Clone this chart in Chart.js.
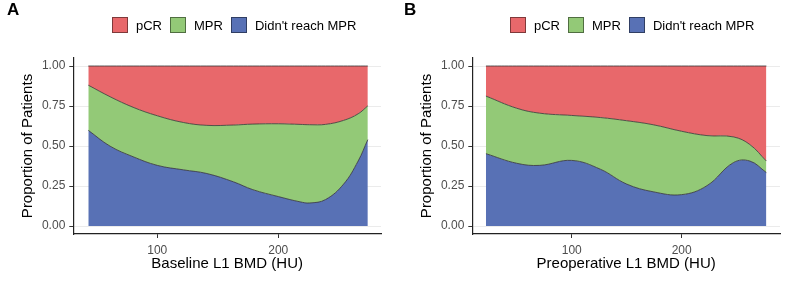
<!DOCTYPE html>
<html>
<head>
<meta charset="utf-8">
<script src="https://cdn.jsdelivr.net/npm/chart.js@4.4.0/dist/chart.umd.min.js"></script>
<style>
  body { margin: 0; background: #fff; font-family: "Liberation Sans", Arial, sans-serif; }
  #wrap { position: relative; width: 794px; height: 285px; overflow: hidden; }
  .panel { position: absolute; top: 0; width: 397px; height: 285px; }
  .panel canvas { position: absolute; left: 0; top: 0; }
  .tag { position: absolute; left: 7px; top: 1px; font-size: 17px; line-height: 17px; font-weight: bold; color: #000; }
  .legend { position: absolute; top: 17px; height: 16px; display: flex; align-items: center; font-size: 13px; color: #000; }
  .legend .item { display: flex; align-items: center; margin-right: 8px; }
  .legend .box { width: 14px; height: 14px; border: 1px solid rgba(0,0,0,0.45); margin-right: 8px; }
</style>
</head>
<body>
<div id="wrap">
  <div class="panel" style="left:0">
    <canvas id="chartA" width="397" height="285"></canvas>
    <div class="tag">A</div>
    <div class="legend" id="legendA" style="left:112px"></div>
  </div>
  <div class="panel" style="left:397px">
    <canvas id="chartB" width="397" height="285"></canvas>
    <div class="tag" style="left:7px">B</div>
    <div class="legend" id="legendB" style="left:113px"></div>
  </div>
</div>
<script>
// Panel A: Baseline L1 BMD (HU)
const baselineBMD = [43, 61, 80, 100, 121.5, 141, 163, 179, 200, 218, 226, 239, 254, 266, 274];
const baselineNoMPR = [0.598, 0.499, 0.433, 0.379, 0.351, 0.328, 0.276, 0.227, 0.184, 0.151, 0.144, 0.165, 0.262, 0.406, 0.540];
const baselineMPR = [0.282, 0.309, 0.309, 0.310, 0.296, 0.301, 0.355, 0.410, 0.455, 0.484, 0.489, 0.470, 0.398, 0.295, 0.211];
const baselinePCR = [0.120, 0.192, 0.258, 0.311, 0.353, 0.371, 0.369, 0.363, 0.361, 0.365, 0.367, 0.365, 0.340, 0.299, 0.249];

// Panel B: Preoperative L1 BMD (HU)
const preopBMD = [22, 50, 71, 100, 126, 150, 174, 200, 223, 247, 262, 277];
const preopNoMPR = [0.452, 0.392, 0.379, 0.410, 0.355, 0.262, 0.214, 0.196, 0.252, 0.396, 0.406, 0.334];
const preopMPR = [0.360, 0.344, 0.326, 0.281, 0.323, 0.396, 0.419, 0.396, 0.313, 0.161, 0.103, 0.072];
const preopPCR = [0.188, 0.264, 0.295, 0.309, 0.322, 0.342, 0.367, 0.408, 0.435, 0.443, 0.491, 0.594];

const yTicks = [0, 0.25, 0.5, 0.75, 1];
const xTicks = [100, 200];

const colors = {
    pcr: '#E8686B',
    mpr: '#93C977',
    noMPR: '#5871B5'
};

Chart.defaults.font.family = '"Liberation Sans", Arial, sans-serif';

// Legend in ggplot order: pCR, MPR, Didn't reach MPR
function buildLegend(id) {
    const items = [['pCR', colors.pcr], ['MPR', colors.mpr], ["Didn't reach MPR", colors.noMPR]];
    document.getElementById(id).innerHTML = items.map(function (it) {
        return '<div class="item"><div class="box" style="background:' + it[1] + '"></div><span>' + it[0] + '</span></div>';
    }).join('');
}

function makePanel(canvasId, xs, noMPR, mpr, pcr, xTitle, geo) {
    const pts = arr => xs.map((x, i) => ({x: x, y: arr[i]}));
    return new Chart(document.getElementById(canvasId), {
        type: 'line',
        data: {
            datasets: [
                {label: "Didn't reach MPR", data: pts(noMPR), backgroundColor: colors.noMPR, fill: 'origin'},
                {label: 'MPR', data: pts(mpr), backgroundColor: colors.mpr, fill: '-1'},
                {label: 'pCR', data: pts(pcr), backgroundColor: colors.pcr, fill: '-1'}
            ]
        },
        options: {
            responsive: false,
            animation: false,
            elements: {
                line: {tension: 0.4, borderColor: '#333', borderWidth: 0.8},
                point: {radius: 0}
            },
            layout: {padding: {left: geo.padLeft, right: 397 - geo.right, top: 58, bottom: 12}},
            plugins: {legend: {display: false}, tooltip: {enabled: false}},
            scales: {
                x: {
                    type: 'linear',
                    min: geo.xMin,
                    max: geo.xMax,
                    afterBuildTicks: s => { s.ticks = xTicks.map(v => ({value: v})); },
                    afterFit: s => { s.height = 39; },
                    grid: {drawOnChartArea: false, tickLength: 4, tickColor: '#333'},
                    border: {color: '#222', width: 1.2},
                    ticks: {color: '#4d4d4d', font: {size: 12}, padding: 5, maxRotation: 0},
                    title: {display: true, text: xTitle, color: '#000', font: {size: 15}, padding: 0}
                },
                y: {
                    stacked: true,
                    min: -0.05,
                    max: 1.05,
                    afterBuildTicks: s => { s.ticks = yTicks.map(v => ({value: v})); },
                    afterFit: s => { s.width = geo.left - geo.padLeft; },
                    grid: {color: '#ebebeb', tickLength: 4, tickColor: '#333'},
                    border: {color: '#222', width: 1.2},
                    ticks: {color: '#4d4d4d', font: {size: 12}, padding: 4, callback: v => v.toFixed(2)},
                    title: {display: true, text: 'Proportion of Patients', color: '#000', font: {size: 15}, padding: 0}
                }
            }
        }
    });
}

buildLegend('legendA');
buildLegend('legendB');

makePanel('chartA', baselineBMD, baselineNoMPR, baselineMPR, baselinePCR, 'Baseline L1 BMD (HU)',
    {padLeft: 19, left: 73.3, right: 381, xMin: 30.6, xMax: 284.9});
makePanel('chartB', preopBMD, preopNoMPR, preopMPR, preopPCR, 'Preoperative L1 BMD (HU)',
    {padLeft: 21, left: 75.3, right: 383, xMin: 9.6, xMax: 289.4});
</script>
</body>
</html>
